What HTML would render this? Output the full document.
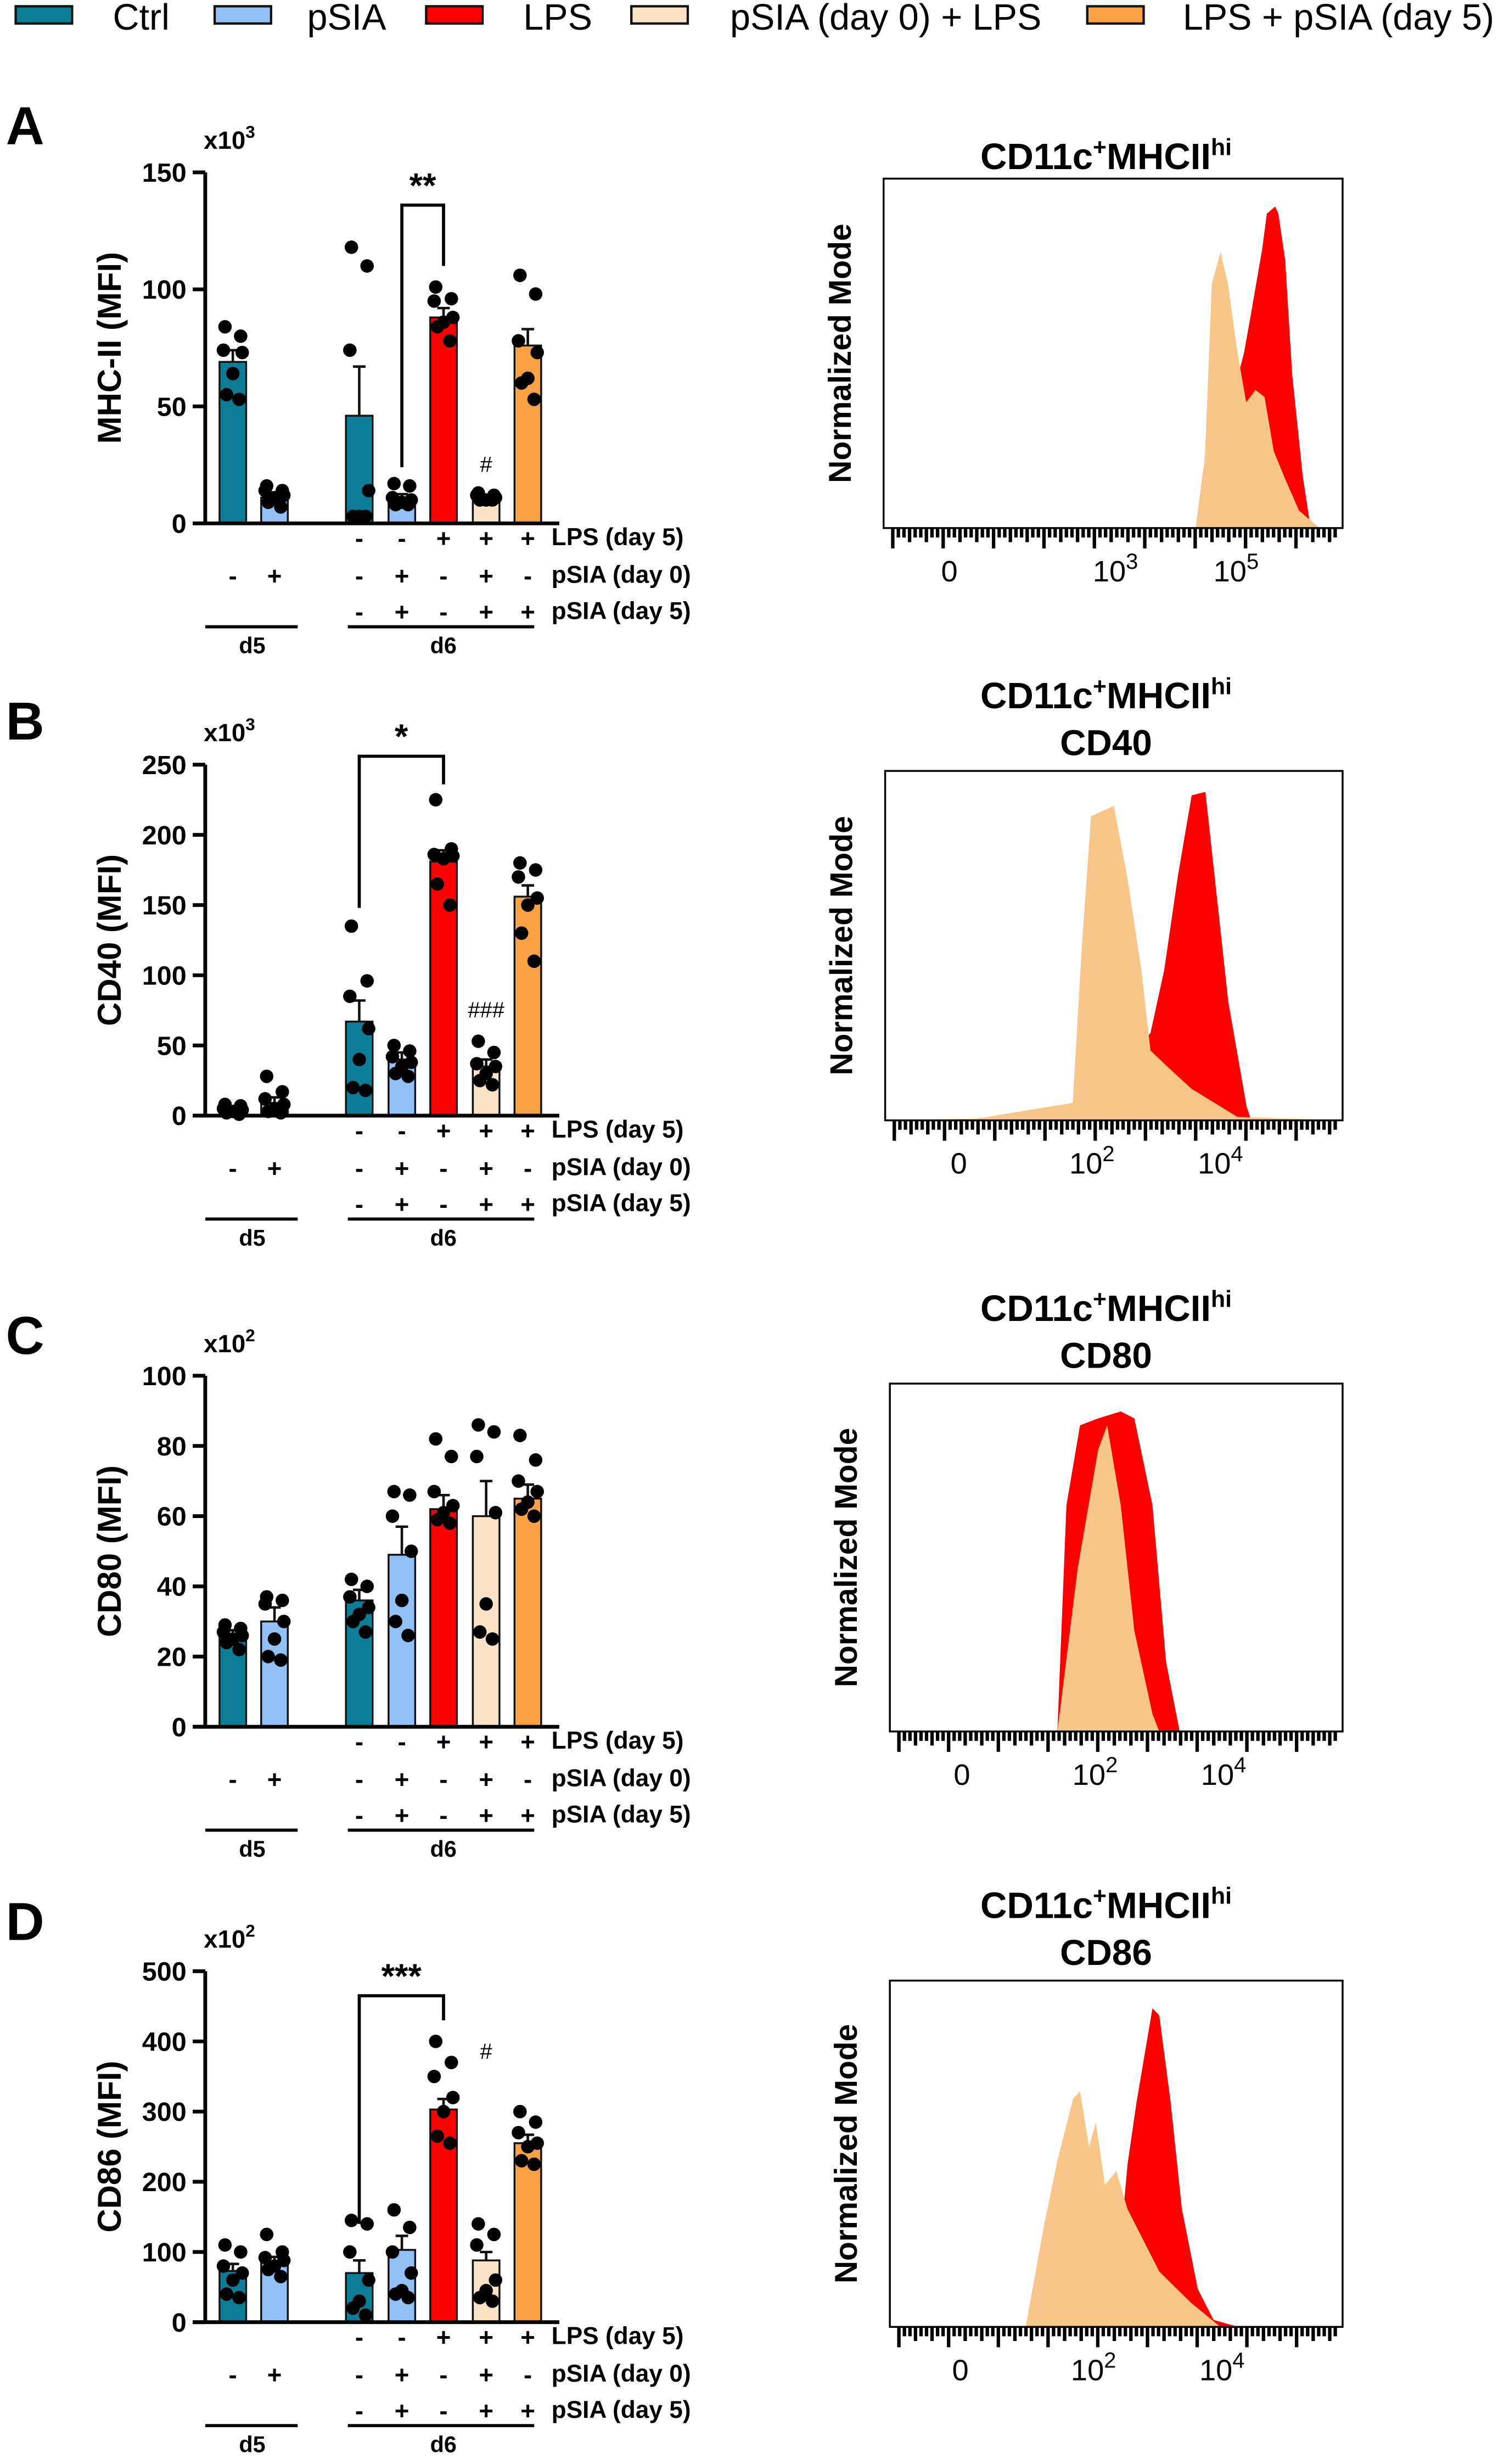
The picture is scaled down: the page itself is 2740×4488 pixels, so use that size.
<!DOCTYPE html>
<html><head><meta charset="utf-8"><title>Figure</title>
<style>
html,body{margin:0;padding:0;background:#fff;}
svg{display:block;font-family:"Liberation Sans",Arial,sans-serif;}
.b{font-weight:bold;}
.n{font-family:"Liberation Sans Narrow","Liberation Sans",sans-serif;font-weight:bold;}
</style></head>
<body>
<svg id="fig" width="2740" height="4488" viewBox="0 0 960 1572.5" xmlns="http://www.w3.org/2000/svg">
<g id="legend"></g>
</svg>
<script>
// ---------- data ----------
const groups = ["Ctrl d5","pSIA d5","Ctrl d6","pSIA d6","LPS","pSIA(day 0)+LPS","LPS+pSIA(day 5)"];
const legendNames = ["Ctrl","pSIA","LPS","pSIA (day 0) + LPS","LPS + pSIA (day 5)"];
const panelLetters = ["A","B","C","D"];
const yTitles = ["MHC-II (MFI)","CD40 (MFI)","CD80 (MFI)","CD86 (MFI)"];
const yExp = ["3","3","2","2"];
const yMax = [150,250,100,500];
const yTicksA = [0,50,100,150];
const yTicksB = [0,50,100,150,200,250];
const yTicksC = [0,20,40,60,80,100];
const yTicksD = [0,100,200,300,400,500];
const meansA = [69,11,46,11,88,10,76];
const errA = [5,1.5,21,1.5,4,1,7];
const meansB = [5,9,67,40,181,35,156];
const errB = [1.5,4,15,5,8,5,8];
const meansC = [26,30,36,49,62,60,65];
const errC = [1.5,4,3,8,4,10,4];
const meansD = [73,85,70,103,303,88,255];
const errD = [10,8,18,20,15,12,12];
const ptsA = [[84,80,74,73,64,55,53],[16,14,14,12,11,9,7],[118,110,74,14,3,3,3],[17,16,11,10,9,8,8],[101,96,95,88,86,84,78],[13,12,12,11,10,10,10],[106,98,78,73,62,60,53]];
const ptsB = [[8,7,5,4,3,2,1],[28,17,12,8,5,3,2],[135,96,85,62,40,20,18],[50,46,42,38,35,30,28],[225,190,186,185,183,165,150],[53,45,37,35,30,25,22],[180,175,170,155,150,130,110]];
const ptsC = [[29,28,27,26,25,24,22],[37,36,35,30,25,20,19],[42,40,37,34,32,30,27],[67,66,60,50,36,30,26],[82,77,67,63,61,59,58],[86,84,77,61,35,27,25],[83,76,70,67,64,62,60]];
const ptsD = [[110,100,80,70,60,40,35],[125,100,92,88,80,75,65],[145,140,100,60,30,20,10],[160,135,100,70,45,40,35],[400,370,350,320,300,265,255],[140,125,110,60,45,35,30],[300,285,270,255,250,230,225]];
// significance: [fromGroup,toGroup, fromValue, topValue, toValue, label]
const sigA = [3,4,24,136,110,"**"];
const sigB = [2,4,148,256,236,"*"];
const sigC = null;
const sigD = [2,4,140,465,430,"***"];
// hash marks: [group, value, label]
const hashA = [5,22,"#"];
const hashB = [5,70,"###"];
const hashC = null;
const hashD = [5,375,"#"];
const rowLPS = ["","","-","-","+","+","+"];
const rowP0 = ["-","+","-","+","-","+","-"];
const rowP5 = ["","","-","+","-","+","+"];
const rowNames = ["LPS (day 5)","pSIA (day 0)","pSIA (day 5)"];
// histograms: [x fraction, height fraction]
const histRedA = [[0.68,0],[0.70,0.2],[0.72,0.7],[0.734,0.79],[0.77,0.51],[0.775,0.45],[0.785,0.50],[0.80,0.61],[0.825,0.80],[0.835,0.90],[0.853,0.92],[0.86,0.90],[0.875,0.765],[0.89,0.44],[0.913,0.15],[0.928,0.02],[0.945,0]];
const histBeigeA = [[0.68,0],[0.70,0.2],[0.715,0.7],[0.734,0.79],[0.75,0.7],[0.77,0.51],[0.79,0.36],[0.81,0.395],[0.83,0.375],[0.85,0.22],[0.875,0.14],[0.905,0.05],[0.95,0]];
const histRedB = [[0.41,0],[0.58,0.25],[0.61,0.43],[0.64,0.70],[0.67,0.93],[0.70,0.94],[0.72,0.70],[0.75,0.34],[0.79,0.04],[0.80,0]];
const histBeigeB = [[0.0,0],[0.2,0.005],[0.41,0.05],[0.43,0.5],[0.45,0.87],[0.50,0.9],[0.53,0.69],[0.56,0.43],[0.58,0.2],[0.62,0.15],[0.67,0.09],[0.77,0.01],[1.0,0]];
const histRedC = [[0.37,0],[0.39,0.65],[0.42,0.88],[0.46,0.9],[0.51,0.92],[0.54,0.9],[0.58,0.65],[0.61,0.2],[0.64,0]];
const histBeigeC = [[0.37,0],[0.415,0.47],[0.46,0.81],[0.48,0.88],[0.51,0.65],[0.54,0.29],[0.58,0.05],[0.595,0]];
const histRedD = [[0.455,0],[0.50,0.45],[0.51,0.25],[0.525,0.47],[0.545,0.65],[0.58,0.92],[0.595,0.9],[0.62,0.65],[0.645,0.34],[0.68,0.11],[0.715,0.02],[0.77,0]];
const histBeigeD = [[0.30,0],[0.34,0.29],[0.37,0.48],[0.405,0.66],[0.42,0.68],[0.44,0.52],[0.455,0.59],[0.475,0.41],[0.50,0.45],[0.525,0.34],[0.56,0.25],[0.595,0.16],[0.665,0.07],[0.73,0]];
const histTitle2 = ["","CD40","CD80","CD86"];
const histLabelsA = ["0","10|3","10|5"];
const histLabelsBCD = ["0","10|2","10|4"];

// ---------- drawing ----------
const NS="http://www.w3.org/2000/svg";
const svg=document.getElementById('fig');
const colors=["#0b7d96","#92c1f7","#ff0000","#fde3c6","#faa144"];
const barColor=[0,1,0,1,2,3,4];
function mk(tag,attrs,parent){const e=document.createElementNS(NS,tag);for(const k in attrs)e.setAttribute(k,attrs[k]);(parent||svg).appendChild(e);return e;}
function txt(s,x,y,size,cls,anchor,parent){const t=mk('text',{x:x,y:y,'font-size':size,'text-anchor':anchor||'middle'},parent);if(cls)t.setAttribute('class',cls);t.textContent=s;return t;}

// legend
const lg=document.getElementById('legend');
const legBox=[10,137,272,403,694];
const legTxt=[72,196,334,466,755];
for(let i=0;i<5;i++){
  const r=mk('rect',{x:legBox[i],y:4,width:36,height:11,fill:colors[i],stroke:'#111','stroke-width':1.5},lg);
  
  
  const t=txt(legendNames[i],legTxt[i],19,23.3,'', 'start',lg);
  
  
}

const offs=[0,378,768,1148];
const means=[meansA,meansB,meansC,meansD], errs=[errA,errB,errC,errD], pts=[ptsA,ptsB,ptsC,ptsD];
const ticks=[yTicksA,yTicksB,yTicksC,yTicksD];
const sigs=[sigA,sigB,sigC,sigD], hashes=[hashA,hashB,hashC,hashD];
const redH=[histRedA,histRedB,histRedC,histRedD], beigeH=[histBeigeA,histBeigeB,histBeigeC,histBeigeD];
const barX=[148.6,175.2,229.3,256.5,283.1,310.3,336.9];
const jit=[-5,5,-6,6,0,-4,4];
const hBox=[[564,114,293,223],[565,492,292,223],[568,883,289,222],[568,1264,289,221]];
const hLab=[[606,712,789],[612,697,779],[614,699,781],[613,698,780]];

for(let p=0;p<4;p++){
  const o=offs[p];
  const g=mk('g',{});
  
  
  const y0=334+o, yT=110+o, ax=131;
  const Y=v=>y0-(v/yMax[p])*(y0-yT);
  const L=txt(panelLetters[p],16,(p==0?92:p==1?472:p==2?864:1238),34,'b','middle',g);
  
  
  // y title
  const yt=txt(yTitles[p],0,0,21,'b','middle',g);
  yt.setAttribute('transform','translate(77,'+((y0+yT)/2)+') rotate(-90)');
  
  
  // multiplier
  const mt=mk('text',{x:130,y:yT-15,'font-size':16,'class':'n'},g);
  
  
  mt.innerHTML='x10<tspan dy="-7" font-size="11">'+yExp[p]+'</tspan>';
  // bars
  for(let i=0;i<7;i++){
    const m=means[p][i], e=errs[p][i], x=barX[i];
    const bar=mk('rect',{x:x-8.5,y:Y(m),width:17,height:y0-Y(m),fill:colors[barColor[i]],stroke:'#111','stroke-width':1.2},g);
    
    
    mk('path',{d:'M'+x+' '+Y(m)+'V'+Y(m+e)+'M'+(x-4)+' '+Y(m+e)+'H'+(x+4),stroke:'#111','stroke-width':1.6,fill:'none'},g);
    pts[p][i].forEach((v,k)=>{
      const c=mk('circle',{cx:x+jit[k],cy:Y(v),r:4.3,fill:'#000'},g);
      
      
    });
  }
  // axes
  mk('path',{d:'M'+ax+' '+yT+'V'+y0,stroke:'#000','stroke-width':2.4},g);
  mk('path',{d:'M123 '+y0+'H357',stroke:'#000','stroke-width':2.4},g);
  ticks[p].forEach(v=>{
    mk('path',{d:'M123 '+Y(v)+'H'+ax,stroke:'#000','stroke-width':2.4},g);
    const t=txt(String(v),119,Y(v)+6,17,'n','end',g);
    
    
  });
  // sig
  const s=sigs[p];
  if(s){
    mk('path',{d:'M'+barX[s[0]]+' '+Y(s[2])+'V'+Y(s[3])+'H'+barX[s[1]]+'V'+Y(s[4]),stroke:'#000','stroke-width':2,fill:'none'},g);
    const st=txt(s[5],(barX[s[0]]+barX[s[1]])/2,Y(s[3])-5,22,'b','middle',g);
    
    
  }
  const h=hashes[p];
  if(h){const ht=txt(h[2],barX[h[0]],Y(h[1]),14,'','middle',g);
    
    }
  // rows
  const rows=[rowLPS,rowP0,rowP5];
  const ry=[349,373,396];
  rows.forEach((r,ri)=>{
    r.forEach((sym,i)=>{ if(sym) txt(sym,barX[i],ry[ri]+o,16,'b','middle',g); });
    const rl=txt(rowNames[ri],352,ry[ri]+o-1,15.5,'n','start',g);
    
    
  });
  mk('path',{d:'M131 '+(400+o)+'H190M222 '+(400+o)+'H341',stroke:'#000','stroke-width':2},g);
  txt('d5',161,417+o,14.5,'b','middle',g);
  txt('d6',283,417+o,14.5,'b','middle',g);

  // histogram
  const hg=mk('g',{});
  
  
  const [bx,by,bw,bh]=hBox[p];
  const path=arr=>{let d='M'+(bx+arr[0][0]*bw)+' '+(by+bh);arr.forEach(q=>{d+='L'+(bx+q[0]*bw)+' '+(by+bh-q[1]*bh);});d+='L'+(bx+arr[arr.length-1][0]*bw)+' '+(by+bh)+'Z';return d;};
  const rp=mk('path',{d:path(redH[p]),fill:'#ff0000'},hg);
  
  
  const bp=mk('path',{d:path(beigeH[p]),fill:'#f9c68a'},hg);
  
  
  mk('rect',{x:bx,y:by,width:bw,height:bh,fill:'none',stroke:'#000','stroke-width':1.2},hg);
  // ticks
  let td='';
  for(let k=0;k<80;k++){
    const f=0.02+k*0.0122; const tx=bx+f*bw;
    const L2=(k%9==0)?13:((k%3==0)?9:6);
    td+='M'+tx+' '+(by+bh)+'v'+L2;
  }
  mk('path',{d:td,stroke:'#000','stroke-width':2.2},hg);
  const labs=p==0?histLabelsA:histLabelsBCD;
  labs.forEach((l,k)=>{
    const parts=l.split('|');
    const t=mk('text',{x:hLab[p][k],y:by+bh+34,'font-size':19,'text-anchor':'middle'},hg);
    
    
    if(parts.length==1)t.textContent=parts[0];
    else t.innerHTML=parts[0]+'<tspan dy="-8" font-size="14">'+parts[1]+'</tspan>';
  });
  const nm=txt('Normalized Mode',0,0,20,'b','middle',hg);
  nm.setAttribute('transform','translate('+(bx-21)+','+(by+bh/2)+') rotate(-90)');
  
  
  const tY=p==0?by-6:by-40;
  const tt=mk('text',{x:706,y:tY,'font-size':23.5,'text-anchor':'middle','class':'b'},hg);
  
  
  tt.innerHTML='CD11c<tspan dy="-9" font-size="15">+</tspan><tspan dy="9">MHCII</tspan><tspan dy="-9" font-size="15">hi</tspan>';
  if(histTitle2[p]){const t2=txt(histTitle2[p],706,by-10,23,'b','middle',hg);
    
    }
}
</script>
</body></html>
